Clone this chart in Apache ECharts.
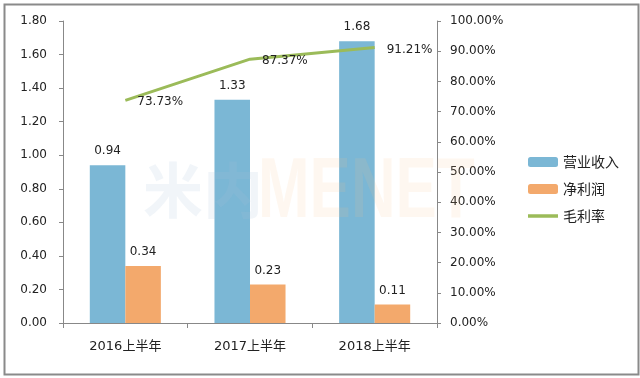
<!DOCTYPE html>
<html>
<head>
<meta charset="utf-8">
<script src="https://cdn.jsdelivr.net/npm/echarts@6/dist/echarts.min.js"></script>
<style>
  html, body { margin: 0; padding: 0; background: #fff; }
  #chart { width: 640px; height: 378px; }
</style>
</head>
<body>
<div id="chart"></div>
<script>
// 数据
const categories = ['2016上半年', '2017上半年', '2018上半年'];
const revenue = [0.94, 1.33, 1.68];
const netProfit = [0.34, 0.23, 0.11];
const grossMargin = [73.73, 87.37, 91.21];

const seriesNames = ['营业收入', '净利润', '毛利率'];
const colors = ['#7bb7d5', '#f3a96c', '#9bbb59'];

const font = "'DejaVu Sans', 'Noto Sans CJK SC', sans-serif";

const chart = echarts.init(document.getElementById('chart'));

const option = {
    animation: false,
    color: colors,
    textStyle: { fontFamily: font },
    grid: { left: 63, right: 203, top: 21, bottom: 55 },
    legend: {
        orient: 'vertical',
        left: 523,
        top: 150,
        itemWidth: 30,
        itemHeight: 10,
        itemGap: 13,
        textStyle: { fontSize: 14, color: '#222', fontFamily: "'Noto Sans CJK SC', sans-serif" },
        data: [
            { name: seriesNames[0] },
            { name: seriesNames[1] },
            { name: seriesNames[2], icon: 'path://M0,0 L30,0 L30,3.5 L0,3.5 Z' }
        ]
    },
    graphic: [
        {
            type: 'rect',
            left: 2, top: 2,
            shape: { width: 634, height: 370 },
            style: { fill: 'none', stroke: '#8a8a8a', lineWidth: 2 },
            silent: true
        },
        {
            type: 'text',
            left: 143, top: 160,
            z: 100,
            silent: true,
            style: {
                text: '米内',
                font: "bold 60px 'Noto Sans CJK SC'",
                fill: 'rgba(170,195,215,0.16)'
            }
        },
        {
            type: 'text',
            left: 258, top: 150,
            z: 100,
            scaleX: 0.72,
            silent: true,
            style: {
                text: 'MENET',
                font: "bold 86px 'Liberation Sans'",
                fill: 'rgba(250,190,140,0.13)'
            }
        }
    ],
    xAxis: {
        type: 'category',
        data: categories,
        axisLine: { lineStyle: { color: '#888' } },
        axisTick: { show: true, length: 5, lineStyle: { color: '#888' } },
        axisLabel: { color: '#222', fontSize: 13, margin: 17 }
    },
    yAxis: [
        {
            type: 'value',
            min: 0, max: 1.8, interval: 0.2,
            axisLine: { show: true, lineStyle: { color: '#888' } },
            axisTick: { show: true, length: 4, lineStyle: { color: '#888' } },
            splitLine: { show: false },
            axisLabel: { color: '#222', fontSize: 12, margin: 16, formatter: v => v.toFixed(2) }
        },
        {
            type: 'value',
            min: 0, max: 100, interval: 10,
            axisLine: { show: true, lineStyle: { color: '#888' } },
            axisTick: { show: true, length: 4, lineStyle: { color: '#888' } },
            splitLine: { show: false },
            axisLabel: { color: '#222', fontSize: 12, margin: 13, formatter: v => v.toFixed(2) + '%' }
        }
    ],
    series: [
        {
            name: seriesNames[0],
            type: 'bar',
            data: revenue,
            barGap: '0%',
            barCategoryGap: '43%',
            label: { show: true, position: 'top', distance: 8, color: '#222', fontSize: 12, formatter: p => p.value.toFixed(2) }
        },
        {
            name: seriesNames[1],
            type: 'bar',
            data: netProfit,
            label: { show: true, position: 'top', distance: 8, color: '#222', fontSize: 12, formatter: p => p.value.toFixed(2) }
        },
        {
            name: seriesNames[2],
            type: 'line',
            yAxisIndex: 1,
            z: 5,
            data: grossMargin,
            symbol: 'circle',
            symbolSize: 0.01,
            showSymbol: true,
            itemStyle: { color: colors[2] },
            lineStyle: { width: 3, color: colors[2] },
            label: {
                show: true, position: 'right', distance: 12, offset: [0, 2],
                color: '#222', fontSize: 12,
                formatter: p => p.value.toFixed(2) + '%'
            }
        }
    ]
};

chart.setOption(option);
</script>
</body>
</html>
